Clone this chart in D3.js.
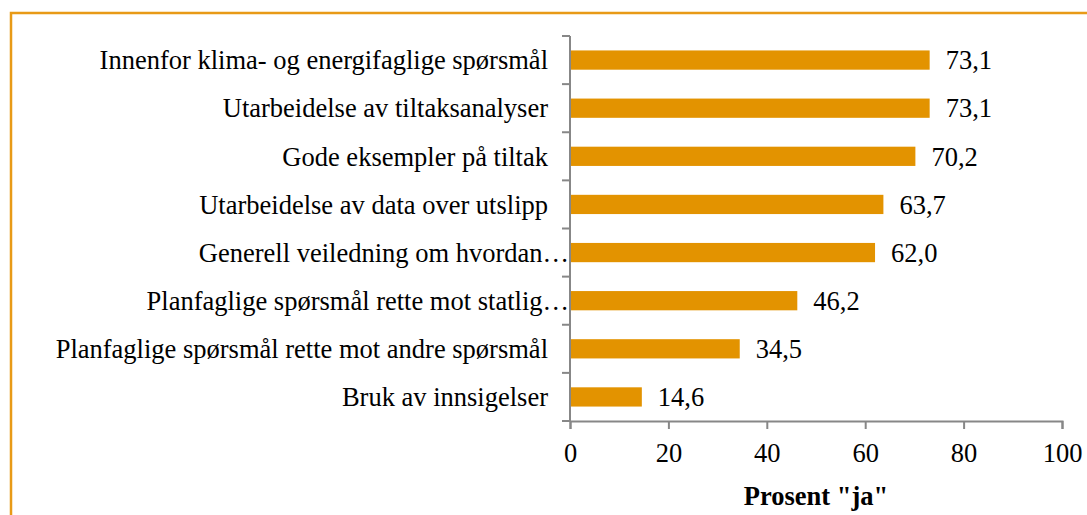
<!DOCTYPE html>
<html lang="no">
<head>
<meta charset="UTF-8">
<title>Prosent ja</title>
<style>
	body{margin:0;background:#fff;}
	svg text{font-family:"Liberation Serif","Times New Roman",serif;fill:#000;}
	.frame{fill:none;stroke:#e89a17;stroke-width:2.5px;}
	.axis path,.axis line{stroke:#878787;stroke-width:2px;}
</style>
</head>
<body>
<script src="https://d3js.org/d3.v7.min.js"></script>
<script>
	// data, top to bottom
	var categories = [
		'Innenfor klima- og energifaglige spørsmål',
		'Utarbeidelse av tiltaksanalyser',
		'Gode eksempler på tiltak',
		'Utarbeidelse av data over utslipp',
		'Generell veiledning om hvordan…',
		'Planfaglige spørsmål rette mot statlig…',
		'Planfaglige spørsmål rette mot andre spørsmål',
		'Bruk av innsigelser'
	];
	var values = [73.1, 73.1, 70.2, 63.7, 62.0, 46.2, 34.5, 14.6];
	var xTicks = [0, 20, 40, 60, 80, 100];
	var axisTitle = 'Prosent "ja"';

	var W = 1087, H = 515;
	// plot area (not named top/left: window.top is taken)
	var pL = 570, pR = 1062, pT = 36, pB = 421;
	var fs = '26.5px';

	var svg = d3.select('body').append('svg')
		.attr('width', W)
		.attr('height', H);

	// orange frame, runs off the right and bottom edge
	svg.append('rect')
		.attr('class', 'frame')
		.attr('x', 11).attr('y', 13)
		.attr('width', W + 20).attr('height', H + 20);

	var x = d3.scaleLinear().domain([0, 100]).range([pL, pR]);
	var y = d3.scaleBand().domain(categories).range([pT, pB]).paddingInner(0.6).paddingOuter(0.3);

	// bars
	svg.selectAll('rect.bar')
		.data(values)
		.enter().append('rect')
		.attr('class', 'bar')
		.attr('x', x(0))
		.attr('y', (d, i) => y(categories[i]))
		.attr('width', d => x(d) - x(0))
		.attr('height', y.bandwidth())
		.attr('fill', '#e39300');

	// value labels
	var fmt = d => d3.format('.1f')(d).replace('.', ',');
	svg.selectAll('text.val')
		.data(values)
		.enter().append('text')
		.attr('class', 'val')
		.attr('x', d => x(d) + 16)
		.attr('y', (d, i) => y(categories[i]) + y.bandwidth() / 2)
		.attr('dy', '0.35em')
		.style('font-size', fs)
		.text(fmt);

	// x axis
	var xAxis = svg.append('g')
		.attr('class', 'axis')
		.attr('transform', 'translate(0,' + pB + ')')
		.call(d3.axisBottom(x).tickValues(xTicks).tickSize(8).tickSizeOuter(8).tickPadding(14));
	xAxis.selectAll('text').style('font-size', fs).attr('fill', '#000');

	// y axis: ticks sit between categories
	var step = (pB - pT) / categories.length;
	var yEdges = d3.range(categories.length + 1).map(i => pT + i * step);
	var yAx = svg.append('g').attr('class', 'axis');
	yAx.append('line')
		.attr('x1', pL).attr('x2', pL)
		.attr('y1', pT).attr('y2', pB);
	yAx.selectAll('line.tick')
		.data(yEdges)
		.enter().append('line')
		.attr('class', 'tick')
		.attr('x1', pL - 8).attr('x2', pL)
		.attr('y1', d => d).attr('y2', d => d);

	// category labels
	svg.selectAll('text.cat')
		.data(categories)
		.enter().append('text')
		.attr('class', 'cat')
		.attr('x', d => d.endsWith('…') ? pL - 1 : pL - 22)
		.attr('y', d => y(d) + y.bandwidth() / 2)
		.attr('dy', '0.35em')
		.attr('text-anchor', 'end')
		.style('font-size', fs)
		.text(d => d);

	// axis title
	svg.append('text')
		.attr('x', (pL + pR) / 2)
		.attr('y', 505)
		.attr('text-anchor', 'middle')
		.style('font-size', fs)
		.style('font-weight', 'bold')
		.text(axisTitle);
</script>
</body>
</html>
